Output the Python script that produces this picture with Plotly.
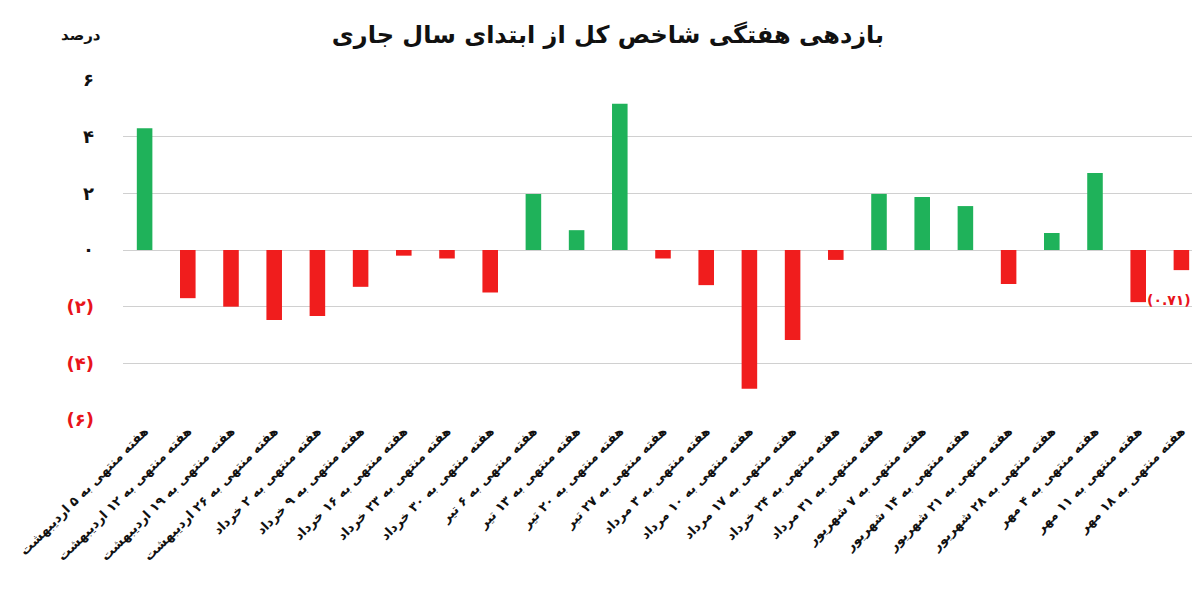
import plotly.graph_objects as go

weeks = [
    "هفته منتهی به ۵ اردیبهشت", "هفته منتهی به ۱۲ اردیبهشت", "هفته منتهی به ۱۹ اردیبهشت",
    "هفته منتهی به ۲۶ اردیبهشت", "هفته منتهی به ۲ خرداد", "هفته منتهی به ۹ خرداد",
    "هفته منتهی به ۱۶ خرداد", "هفته منتهی به ۲۳ خرداد", "هفته منتهی به ۳۰ خرداد",
    "هفته منتهی به ۶ تیر", "هفته منتهی به ۱۳ تیر", "هفته منتهی به ۲۰ تیر",
    "هفته منتهی به ۲۷ تیر", "هفته منتهی به ۳ مرداد", "هفته منتهی به ۱۰ مرداد",
    "هفته منتهی به ۱۷ مرداد", "هفته منتهی به ۲۴ خرداد", "هفته منتهی به ۳۱ مرداد",
    "هفته منتهی به ۷ شهریور", "هفته منتهی به ۱۴ شهریور", "هفته منتهی به ۲۱ شهریور",
    "هفته منتهی به ۲۸ شهریور", "هفته منتهی به ۴ مهر", "هفته منتهی به ۱۱ مهر",
    "هفته منتهی به ۱۸ مهر",
]
returns = [4.3, -1.7, -2.0, -2.47, -2.33, -1.3, -0.2, -0.3, -1.5, 1.98, 0.7, 5.16,
           -0.3, -1.24, -4.9, -3.18, -0.35, 1.98, 1.87, 1.55, -1.2, 0.6, 2.72, -1.84, -0.71]

tick_vals = [6, 4, 2, 0, -2, -4, -6]
tick_text = ["<b>۶</b>", "<b>۴</b>", "<b>۲</b>", "<b>۰</b>",
             "<b><span style='color:#e8141b'>(۲)</span></b>",
             "<b><span style='color:#e8141b'>(۴)</span></b>",
             "<b><span style='color:#e8141b'>(۶)</span></b>"]

colors = ["#1fb25a" if v >= 0 else "#f01d1d" for v in returns]

fig = go.Figure(go.Bar(x=weeks, y=returns, marker_color=colors, marker_line_width=0))

fig.add_annotation(x=weeks[-1], y=returns[-1], text="<b>\u200e(۰.۷۱)</b>", showarrow=False,
                   xshift=-12, yshift=-20, xanchor="center", yanchor="top",
                   font=dict(color="#e8141b", size=14))
fig.add_annotation(x=0.0, y=1.0, xref="paper", yref="paper", text="<b>درصد</b>",
                   showarrow=False, xanchor="right", xshift=-20, yanchor="bottom",
                   yshift=34, font=dict(size=15))

fig.update_layout(
    width=1200, height=609,
    margin=dict(l=115, r=5, t=72, b=197),
    paper_bgcolor="white", plot_bgcolor="white",
    font=dict(family="DejaVu Sans", color="#111", size=14),
    title=dict(text="<b>بازدهی هفتگی شاخص کل از ابتدای سال جاری</b>",
               x=0.5, y=0.97, xanchor="center", font=dict(size=24)),
    bargap=0.64, showlegend=False,
    xaxis=dict(tickangle=-45, tickfont=dict(size=13), showgrid=False,
               ticktext=["<b>%s</b>" % w for w in weeks], tickvals=weeks),
    yaxis=dict(range=[-6, 6], tickvals=tick_vals, ticktext=tick_text,
               gridcolor="#d0d0d0", zeroline=False, ticklabelstandoff=28,
               tickfont=dict(size=18)),
)

fig.write_html("out.html")
